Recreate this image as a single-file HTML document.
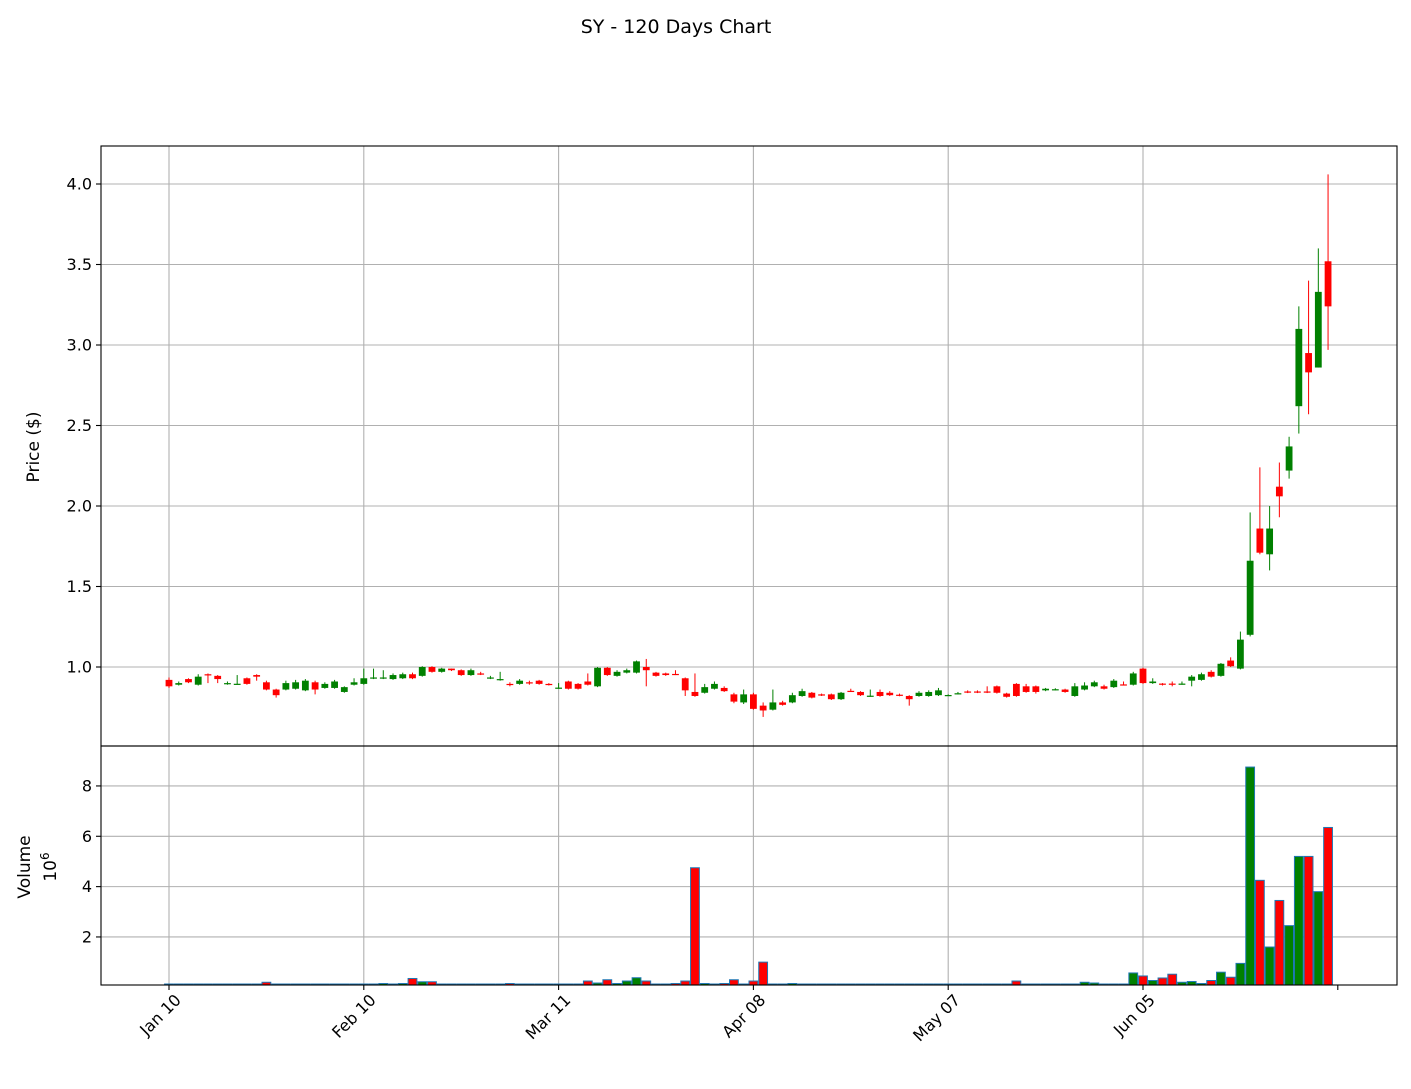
<!DOCTYPE html>
<html><head><meta charset="utf-8"><style>
html,body{margin:0;padding:0;background:#fff}
svg text{font-family:"DejaVu Sans","Liberation Sans",sans-serif;fill:#000}
</style></head><body>
<svg id="chart" width="1411" height="1084" viewBox="0 0 1411 1084" xmlns="http://www.w3.org/2000/svg">
<text x="676" y="33" font-size="19" text-anchor="middle">SY - 120 Days Chart</text>
<g id="grid"></g>
<g id="marks"></g>
<rect x="101" y="146" width="1296" height="600" fill="none" stroke="#000" stroke-width="1.1"/>
<rect x="101" y="746" width="1296" height="239" fill="none" stroke="#000" stroke-width="1.1"/>
<g id="axes"></g>
<text transform="translate(39,447) rotate(-90)" font-size="17" text-anchor="middle">Price ($)</text>
<text transform="translate(30,867) rotate(-90)" font-size="17" text-anchor="middle">Volume</text>
<text transform="translate(56,867) rotate(-90)" font-size="17" text-anchor="middle">10<tspan font-size="12" dy="-7">6</tspan></text>
</svg>
<script>
const opens=[.92,.89,.925,.89,.955,.945,.895,.895,.93,.95,.905,.86,.86,.865,.855,.905,.87,.87,.845,.89,.895,.93,.93,.925,.93,.955,.945,1.0,.97,.99,.98,.95,.96,.93,.92,.895,.895,.905,.915,.895,.87,.91,.895,.91,.88,.995,.945,.965,.965,1.0,.965,.96,.957,.93,.845,.84,.865,.87,.83,.78,.83,.76,.735,.78,.78,.82,.84,.83,.83,.80,.852,.845,.818,.845,.84,.828,.82,.82,.82,.825,.822,.833,.848,.848,.848,.88,.835,.895,.88,.88,.855,.858,.86,.82,.86,.88,.88,.875,.892,.89,.99,.90,.897,.897,.893,.915,.92,.97,.945,1.04,.99,1.2,1.86,1.70,2.12,2.22,2.62,2.95,2.86,3.52];
const closes=[.88,.90,.905,.94,.95,.925,.90,.896,.895,.94,.86,.825,.90,.905,.915,.86,.895,.91,.875,.905,.93,.935,.935,.95,.955,.93,1.0,.97,.99,.98,.95,.98,.955,.935,.925,.89,.915,.90,.895,.89,.872,.865,.865,.89,.995,.95,.97,.98,1.035,.98,.945,.95,.955,.855,.82,.875,.895,.85,.785,.83,.74,.73,.78,.765,.825,.85,.81,.825,.80,.84,.848,.825,.822,.82,.825,.822,.80,.84,.845,.855,.826,.837,.842,.842,.842,.84,.815,.82,.845,.845,.865,.862,.845,.88,.885,.905,.865,.915,.888,.96,.90,.91,.893,.893,.897,.94,.955,.94,1.02,1.005,1.17,1.66,1.71,1.86,2.06,2.37,3.10,2.83,3.33,3.24];
const highs=[.935,.91,.93,.955,.96,.95,.91,.95,.935,.955,.915,.865,.915,.92,.925,.915,.905,.92,.88,.93,.99,.99,.98,.96,.965,.965,1.005,1.005,.995,.99,.985,.99,.97,.945,.97,.905,.925,.915,.92,.9,.9,.915,.9,.96,1.0,1.0,.98,.99,1.04,1.05,.97,.965,.98,.935,.96,.895,.91,.88,.84,.86,.84,.78,.86,.79,.84,.865,.845,.835,.835,.845,.865,.85,.86,.86,.85,.835,.825,.85,.855,.87,.83,.845,.855,.855,.88,.885,.84,.9,.895,.885,.87,.868,.865,.9,.905,.915,.89,.925,.91,.97,.995,.93,.9,.91,.91,.95,.965,.98,1.025,1.06,1.22,1.96,2.24,2.0,2.27,2.43,3.24,3.40,3.60,4.06];
const lows=[.87,.885,.9,.885,.9,.9,.89,.89,.89,.915,.855,.81,.855,.86,.85,.83,.865,.865,.84,.885,.89,.925,.925,.92,.925,.925,.94,.965,.965,.975,.945,.945,.95,.925,.915,.88,.89,.89,.89,.885,.865,.86,.86,.885,.875,.945,.94,.96,.96,.88,.94,.945,.95,.82,.815,.835,.86,.845,.775,.77,.735,.69,.73,.76,.775,.815,.805,.82,.795,.795,.845,.82,.815,.815,.82,.818,.76,.815,.815,.82,.82,.83,.838,.838,.838,.835,.81,.815,.84,.835,.85,.855,.84,.815,.855,.875,.86,.87,.885,.885,.895,.895,.885,.88,.89,.88,.915,.935,.94,1.0,.985,1.19,1.70,1.60,1.93,2.17,2.45,2.57,2.86,2.97];
const volumes=[.02,.02,.02,.02,.02,.02,.03,.03,.03,.03,.2,.03,.03,.04,.03,.03,.06,.03,.03,.08,.08,.04,.15,.04,.15,.35,.22,.22,.1,.1,.05,.04,.04,.08,.08,.15,.08,.08,.04,.04,.05,.08,.08,.25,.17,.3,.15,.25,.38,.25,.03,.03,.15,.25,4.75,.15,.12,.15,.3,.04,.25,1.0,.06,.03,.15,.03,.03,.03,.03,.03,.03,.04,.03,.03,.03,.03,.03,.03,.03,.03,.03,.03,.03,.03,.03,.03,.03,.25,.03,.08,.03,.03,.03,.12,.2,.17,.12,.08,.12,.57,.45,.27,.37,.52,.2,.23,.15,.27,.6,.4,.95,8.75,4.25,1.6,3.45,2.45,5.2,5.2,3.8,6.35];
const priceTicks=[1.0,1.5,2.0,2.5,3.0,3.5,4.0];
const volumeTicks=[2,4,6,8];
const xTickIdx=[0,20,40,60,80,100,120];
const xTickLabels=["Jan 10","Feb 10","Mar 11","Apr 08","May 07","Jun 05",""];

const NS="http://www.w3.org/2000/svg";
const xOf=i=>169+9.74*i;
const yP=v=>667-(v-1)*161;
const yV=v=>987.3-v*25.17;
function mk(tag,attrs,parent){const e=document.createElementNS(NS,tag);for(const k in attrs)e.setAttribute(k,attrs[k]);parent.appendChild(e);return e;}
const grid=document.getElementById('grid'),marks=document.getElementById('marks'),axes=document.getElementById('axes');

priceTicks.forEach(t=>{
  const y=yP(t);
  const g=mk('line',{x1:101,x2:1397,y1:y,y2:y,stroke:'#b0b0b0','stroke-width':1.1},grid);
  
  
  mk('line',{x1:96,x2:101,y1:y,y2:y,stroke:'#000','stroke-width':1.1},axes);
  const tx=mk('text',{x:92,y:y+5.5,'font-size':16,'text-anchor':'end'},axes);
  tx.textContent=t.toFixed(1);
  
  
});
volumeTicks.forEach(t=>{
  const y=yV(t);
  const g=mk('line',{x1:101,x2:1397,y1:y,y2:y,stroke:'#b0b0b0','stroke-width':1.1},grid);
  
  
  mk('line',{x1:96,x2:101,y1:y,y2:y,stroke:'#000','stroke-width':1.1},axes);
  const tx=mk('text',{x:92,y:y+5.5,'font-size':16,'text-anchor':'end'},axes);
  tx.textContent=String(t);
  
  
});
xTickIdx.forEach((idx,k)=>{
  const x=xOf(idx);
  if(xTickLabels[k]!==""){
    const g1=mk('line',{x1:x,x2:x,y1:146,y2:746,stroke:'#b0b0b0','stroke-width':1.1},grid);
    
    
    mk('line',{x1:x,x2:x,y1:746,y2:985,stroke:'#b0b0b0','stroke-width':1.1},grid);
  }
  mk('line',{x1:x,x2:x,y1:985,y2:990,stroke:'#000','stroke-width':1.1},axes);
  const tx=mk('text',{transform:`translate(${x+13},${1001}) rotate(-45)`,'font-size':16,'text-anchor':'end'},axes);
  tx.textContent=xTickLabels[k];
  
  
});

opens.forEach((o,i)=>{
  const c=closes[i],x=xOf(i),up=c>=o,col=up?'#008000':'#ff0000';
  const w=mk('line',{x1:x,x2:x,y1:yP(highs[i]),y2:yP(lows[i]),stroke:col,'stroke-width':1},marks);
  
  
  const top=yP(Math.max(o,c)),bot=yP(Math.min(o,c));
  const b=mk('rect',{x:x-3.4,y:top,width:6.8,height:Math.max(bot-top,1.2),fill:col},marks);
  
  
  const vy=Math.min(yV(volumes[i]),984);
  const v=mk('rect',{x:x-4.4,y:vy,width:8.8,height:985-vy,fill:col,stroke:'#1f77b4','stroke-width':1},marks);
  
  
});
</script>
</body></html>
